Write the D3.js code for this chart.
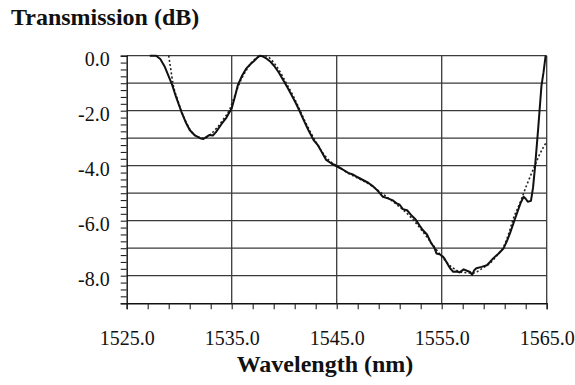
<!DOCTYPE html>
<html>
<head>
<meta charset="utf-8">
<script src="https://cdn.jsdelivr.net/npm/d3@7/dist/d3.min.js"></script>
<style>
  html, body { margin: 0; padding: 0; background: #fff; }
  svg { display: block; }
</style>
</head>
<body>
<svg id="chart" width="575" height="385"></svg>
<script>
// Measured transmission spectrum (solid line)
const measuredWavelength = [
  1527.2, 1527.8, 1528.2, 1528.6, 1529.0, 1529.3, 1529.7, 1530.2, 1530.6, 1531.0,
  1531.5, 1532.0, 1532.3, 1532.6, 1532.9, 1533.2, 1533.5, 1534.0, 1534.5, 1535.0,
  1535.3, 1535.6, 1536.0, 1536.4, 1536.8, 1537.1, 1537.5, 1537.7, 1538.0, 1538.3,
  1538.7, 1539.1, 1539.5, 1539.9, 1540.3, 1540.7, 1541.1, 1541.5, 1541.9, 1542.3,
  1542.8, 1543.2, 1543.6, 1544.0, 1544.5, 1545.0, 1545.5, 1546.1, 1546.6, 1547.0,
  1547.5, 1548.0, 1548.5, 1549.0, 1549.4, 1549.8, 1550.3, 1550.7, 1551.0, 1551.3,
  1551.7, 1552.1, 1552.5, 1552.9, 1553.2, 1553.6, 1554.0, 1554.3, 1554.5, 1554.8,
  1555.1, 1555.3, 1555.6, 1555.8, 1556.1, 1556.4, 1556.7, 1557.1, 1557.4, 1557.7,
  1557.9, 1558.1, 1558.3, 1558.8, 1559.3, 1559.6, 1559.9, 1560.4, 1560.9, 1561.2,
  1561.5, 1562.0, 1562.5, 1562.8, 1563.0, 1563.2, 1563.5, 1563.7, 1563.9, 1564.2,
  1564.5, 1564.7, 1564.9
];
const measuredDb = [
  0.00, 0.00, -0.12, -0.38, -0.75, -1.03, -1.50, -2.03, -2.40, -2.70,
  -2.90, -3.00, -3.03, -2.95, -2.88, -2.90, -2.78, -2.50, -2.25, -1.91,
  -1.50, -1.05, -0.72, -0.46, -0.30, -0.20, -0.05, 0.00, -0.03, -0.10,
  -0.22, -0.40, -0.62, -0.88, -1.15, -1.43, -1.72, -2.04, -2.38, -2.70,
  -3.07, -3.25, -3.52, -3.79, -3.92, -4.02, -4.12, -4.26, -4.33, -4.42,
  -4.52, -4.62, -4.76, -4.95, -5.13, -5.18, -5.25, -5.37, -5.42, -5.58,
  -5.62, -5.80, -5.95, -6.18, -6.34, -6.50, -6.82, -6.98, -7.19, -7.22,
  -7.30, -7.40, -7.60, -7.73, -7.86, -7.85, -7.88, -7.77, -7.82, -7.86,
  -7.97, -7.80, -7.73, -7.68, -7.62, -7.50, -7.37, -7.20, -7.00, -6.75,
  -6.46, -5.91, -5.37, -5.13, -5.20, -5.31, -5.28, -4.80, -4.00, -2.60,
  -1.10, -0.60, 0.00
];

// Fitted transmission (dotted line)
const fitWavelength = [
  1529.0, 1529.2, 1529.4, 1529.8, 1530.2, 1530.7, 1531.2, 1531.8, 1532.4, 1533.0,
  1533.6, 1534.2, 1534.8, 1535.3, 1535.8, 1536.4, 1537.0, 1537.6, 1538.2, 1538.7,
  1539.2, 1539.7, 1540.2, 1540.8, 1541.4, 1542.0, 1542.6, 1543.2, 1543.8, 1544.4,
  1545.0, 1546.0, 1547.0, 1548.0, 1549.0, 1550.0, 1551.0, 1552.0, 1553.0, 1554.0,
  1555.0, 1556.0, 1557.0, 1558.0, 1559.0, 1559.6, 1560.3, 1560.9, 1561.4, 1561.8,
  1562.5, 1563.1, 1563.9, 1564.3, 1565.0
];
const fitDb = [
  0.00, -0.50, -1.00, -1.55, -2.00, -2.45, -2.78, -2.96, -3.00, -2.85,
  -2.62, -2.32, -1.95, -1.45, -0.95, -0.52, -0.20, -0.04, 0.00, -0.12,
  -0.35, -0.65, -1.00, -1.42, -1.90, -2.40, -2.85, -3.25, -3.60, -3.85,
  -4.00, -4.25, -4.45, -4.65, -4.92, -5.20, -5.50, -5.85, -6.30, -6.80,
  -7.30, -7.70, -7.88, -7.90, -7.70, -7.55, -7.25, -6.95, -6.45, -5.95,
  -5.31, -4.70, -3.97, -3.61, -3.13
];

// Axis ticks
const xLabelTicks = [1525, 1535, 1545, 1555, 1565];
const yLabelTicks = [0, -2, -4, -6, -8];
const xGridLines = [1535, 1545, 1555, 1565];
const yGridLines = [0, -1, -2, -3, -4, -5, -6, -7, -8];

const FONT = "'Liberation Serif', 'Times New Roman', serif";

const svg = d3.select("#chart");
const plot = { left: 126.7, right: 546.7, top: 55.7, bottom: 303.2 };

const x = d3.scaleLinear().domain([1525, 1565]).range([plot.left, plot.right]);
const y = d3.scaleLinear().domain([-9, 0]).range([plot.bottom, plot.top]);

// Grid
const grid = svg.append("g").attr("stroke", "#3a3a3a").attr("stroke-width", 1.3);
grid.selectAll("line.h").data(yGridLines).join("line")
  .attr("x1", plot.left).attr("x2", plot.right)
  .attr("y1", d => y(d)).attr("y2", d => y(d));
grid.selectAll("line.v").data(xGridLines).join("line")
  .attr("x1", d => x(d)).attr("x2", d => x(d))
  .attr("y1", plot.top).attr("y2", plot.bottom);

// Axes
const xAxis = d3.axisBottom(x)
  .tickValues(d3.range(1525, 1566, 2))
  .tickSize(6)
  .tickPadding(22)
  .tickFormat(d => xLabelTicks.includes(d) ? d.toFixed(1) : "");
const gx = svg.append("g").attr("transform", `translate(0,${plot.bottom})`).call(xAxis);

const yAxis = d3.axisLeft(y)
  .tickValues(d3.range(-36, 1).map(k => k * 0.25))
  .tickSize(6)
  .tickPadding(11)
  .tickFormat(d => yLabelTicks.includes(d) ? d.toFixed(1) : "");
const gy = svg.append("g").attr("transform", `translate(${plot.left},0)`).call(yAxis);

[gx, gy].forEach(g => {
  g.attr("font-family", null);
  g.select(".domain").attr("stroke", "#111").attr("stroke-width", 1.4);
  g.selectAll(".tick line").attr("stroke", "#222").attr("stroke-width", 1.1);
  g.selectAll(".tick text")
    .style("font-family", FONT)
    .style("font-size", "20px")
    .attr("fill", "#111");
});
gy.selectAll(".tick text").attr("dy", "0.48em");

// Curves
const line = d3.line().x(d => x(d[0])).y(d => y(d[1]));

const fitPoints = d3.zip(fitWavelength, fitDb);
const measuredPoints = d3.zip(measuredWavelength, measuredDb);

svg.append("path")
  .datum(fitPoints)
  .attr("fill", "none")
  .attr("stroke", "#222")
  .attr("stroke-width", 1.6)
  .attr("stroke-dasharray", "2,2.2")
  .attr("d", line.curve(d3.curveMonotoneX));

svg.append("path")
  .datum(measuredPoints)
  .attr("fill", "none")
  .attr("stroke", "#111")
  .attr("stroke-width", 2)
  .attr("stroke-linejoin", "round")
  .attr("d", line.curve(d3.curveLinear));

// Titles
svg.append("text")
  .attr("x", 11).attr("y", 25)
  .style("font-family", FONT)
  .style("font-size", "24px").style("font-weight", "bold")
  .attr("fill", "#111")
  .text("Transmission (dB)");

svg.append("text")
  .attr("x", 325).attr("y", 372)
  .attr("text-anchor", "middle")
  .style("font-family", FONT)
  .style("font-size", "24px").style("font-weight", "bold")
  .attr("fill", "#111")
  .text("Wavelength (nm)");
</script>
</body>
</html>
